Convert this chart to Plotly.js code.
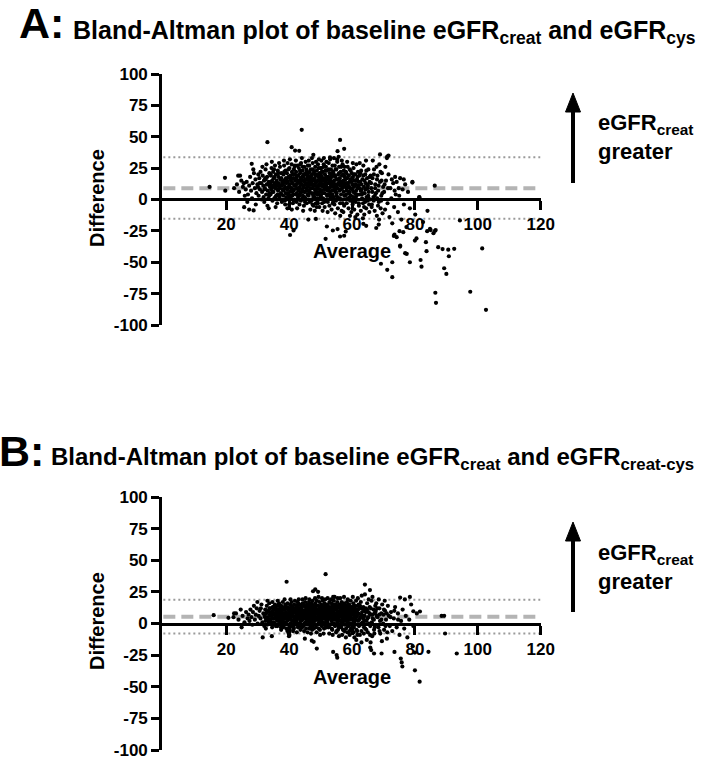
<!DOCTYPE html>
<html><head><meta charset="utf-8">
<script src="https://cdn.plot.ly/plotly-3.0.1.min.js"></script>
<style>html,body{margin:0;padding:0;background:#fff}</style>
</head><body><div id="chart" style="width:705px;height:759px"></div>
<script>
// ---- data ----
const titleA = "Bland-Altman plot of baseline eGFR<sub>creat</sub> and eGFR<sub>cys</sub>";
const titleB = "Bland-Altman plot of baseline eGFR<sub>creat</sub> and eGFR<sub>creat-cys</sub>";
const xTicks = [20, 40, 60, 80, 100, 120];
const xTickLabels = ["20", "40", "60", "80", "100", "120"];
const yTicks = [-100, -75, -50, -25, 0, 25, 50, 75, 100];
const yTickLabels = ["-100", "-75", "-50", "-25", "0", "25", "50", "75", "100"];
// bias and limits of agreement [lower, mean, upper]
const limitsA = [-15.4, 9.0, 33.7];
const limitsB = [-7.9, 5.4, 18.7];
const lineSpan = [0, 120];

// Panel A: [average, difference]
const pointsA = [
[22.5,9],[23.4,12],[24.1,6],[24.8,15],[25.3,10],[25.9,3],[23.8,19],[25.6,13],
[26.2,8],[26.5,14],[26.9,4],[27.3,11],[27.6,18],[27.9,7],[28.2,1],[28.4,13],[28.8,21],[29.1,9],[29.3,16],[29.6,5],[29.9,12],[26.7,-2],[28.6,24],[29.4,-4],
[30.1,10],[30.3,3],[30.5,17],[30.7,8],[30.9,22],[31.1,13],[31.2,0],[31.4,6],[31.6,19],[31.8,11],[32.0,15],[32.1,-2],[32.3,9],[32.5,24],[32.7,4],[32.9,12],[33.0,18],[33.2,7],[33.4,1],[33.5,14],[33.7,21],[33.9,10],[30.6,13],[31.5,26],[32.4,17],[33.1,-5],[33.8,5],[30.2,20],[31.9,2],[32.8,28],
[34.0,12],[34.1,4],[34.2,19],[34.3,8],[34.4,25],[34.6,15],[34.7,-1],[34.8,10],[34.9,22],[35.0,6],[35.1,17],[35.3,1],[35.4,13],[35.5,27],[35.6,9],[35.8,20],[35.9,3],[36.0,15],[36.1,11],[36.2,-3],[36.4,23],[36.5,7],[36.6,18],[36.7,13],[36.9,2],[37.0,9],[37.1,26],[37.2,16],[37.4,5],[37.5,21],[37.6,11],[37.7,-2],[37.8,14],[37.9,8],[34.5,30],[35.7,-6],[36.8,29],[37.3,0],[35.2,24],[36.3,4],
[38.0,12],[38.1,3],[38.2,20],[38.3,8],[38.4,27],[38.5,15],[38.6,-1],[38.7,10],[38.8,23],[38.9,5],[39.0,17],[39.1,13],[39.2,0],[39.3,21],[39.4,8],[39.5,29],[39.6,14],[39.7,4],[39.8,18],[39.9,10],[40.0,-4],[40.1,25],[40.2,12],[40.3,6],[40.4,19],[40.5,1],[40.6,15],[40.7,9],[40.8,28],[40.9,22],[41.0,3],[41.1,13],[41.2,-3],[41.3,17],[41.4,7],[41.5,24],[41.6,11],[41.7,0],[41.8,20],[41.9,15],[38.35,31],[39.45,-7],[40.25,32],[40.85,-8],[41.35,4],[41.75,26],[39.05,2],[38.75,-4],[40.55,9],[41.45,-1],
[42.0,11],[42.1,4],[42.2,22],[42.3,16],[42.4,-2],[42.5,9],[42.6,27],[42.7,13],[42.8,2],[42.9,19],[43.0,7],[43.1,25],[43.2,14],[43.3,-4],[43.4,10],[43.5,21],[43.6,5],[43.7,17],[43.8,29],[43.9,12],[44.0,0],[44.1,15],[44.2,8],[44.3,23],[44.4,3],[44.5,18],[44.6,11],[44.7,-5],[44.8,26],[44.9,14],[45.0,6],[45.1,20],[45.2,1],[45.3,16],[45.4,9],[45.5,24],[45.6,-3],[45.7,12],[45.8,19],[45.9,4],[42.15,31],[42.55,-7],[43.15,0],[43.55,28],[44.05,33],[44.45,-9],[44.85,6],[45.25,30],[45.65,22],[42.85,8],[43.75,-1],[44.65,20],[45.45,13],[42.35,18],[43.35,3],
[46.0,10],[46.1,21],[46.2,3],[46.3,15],[46.4,27],[46.5,7],[46.6,-2],[46.7,18],[46.8,12],[46.9,24],[47.0,0],[47.1,14],[47.2,5],[47.3,20],[47.4,9],[47.5,29],[47.6,16],[47.7,-5],[47.8,11],[47.9,22],[48.0,2],[48.1,17],[48.2,8],[48.3,26],[48.4,13],[48.5,-3],[48.6,19],[48.7,6],[48.8,23],[48.9,10],[49.0,1],[49.1,15],[49.2,28],[49.3,4],[49.4,18],[49.5,12],[49.6,-6],[49.7,21],[49.8,8],[49.9,25],[46.25,31],[46.75,-8],[47.25,33],[47.65,3],[48.15,-9],[48.55,30],[49.05,-1],[49.45,32],[49.85,14],[46.45,12],[47.45,-4],[48.45,7],[49.25,20],[46.95,17],[48.75,-6],
[50.0,11],[50.1,3],[50.2,19],[50.3,25],[50.4,7],[50.5,-3],[50.6,15],[50.7,22],[50.8,1],[50.9,12],[51.0,28],[51.1,17],[51.2,5],[51.3,-6],[51.4,20],[51.5,9],[51.6,14],[51.7,26],[51.8,0],[51.9,10],[52.0,23],[52.1,16],[52.2,4],[52.3,-2],[52.4,18],[52.5,8],[52.6,29],[52.7,13],[52.8,-5],[52.9,21],[53.0,6],[53.1,15],[53.2,2],[53.3,24],[53.4,11],[53.5,-8],[53.6,18],[53.7,7],[53.8,27],[53.9,13],[50.25,31],[50.65,-9],[51.05,33],[51.45,-1],[51.85,30],[52.25,-10],[52.65,9],[53.05,32],[53.45,19],[53.85,-3],[50.45,17],[51.25,12],[52.05,3],[52.85,14],[53.65,0],
[54.0,10],[54.1,21],[54.2,2],[54.3,15],[54.4,-4],[54.5,27],[54.6,8],[54.7,18],[54.8,12],[54.9,-1],[55.0,24],[55.1,5],[55.2,16],[55.3,30],[55.4,9],[55.5,-7],[55.6,20],[55.7,13],[55.8,1],[55.9,26],[56.0,7],[56.1,17],[56.2,-3],[56.3,11],[56.4,22],[56.5,4],[56.6,14],[56.7,-9],[56.8,19],[56.9,9],[57.0,28],[57.1,0],[57.2,15],[57.3,6],[57.4,23],[57.5,-5],[57.6,12],[57.7,18],[57.8,3],[57.9,10],[54.25,33],[54.65,-11],[55.25,32],[55.75,34],[56.25,-13],[56.75,31],[57.25,-10],[57.65,26],[54.85,6],[56.45,0],
[58.0,13],[58.1,4],[58.2,21],[58.3,-3],[58.4,9],[58.5,17],[58.6,26],[58.7,1],[58.8,11],[58.9,-7],[59.0,19],[59.1,6],[59.2,14],[59.3,24],[59.4,-1],[59.5,9],[59.6,16],[59.7,3],[59.8,-10],[59.9,21],[60.0,8],[60.1,12],[60.2,-4],[60.3,18],[60.4,2],[60.5,25],[60.6,10],[60.7,-8],[60.8,15],[60.9,5],[61.0,20],[61.1,-2],[61.2,12],[61.3,7],[61.4,28],[61.5,0],[61.6,16],[61.7,-12],[61.8,9],[61.9,22],[58.45,30],[59.35,-13],[60.25,29],[61.05,-14],[61.65,4],
[62.0,11],[62.2,-5],[62.3,19],[62.5,4],[62.6,14],[62.8,-9],[62.9,23],[63.0,8],[63.2,1],[63.3,16],[63.5,-3],[63.6,27],[63.8,10],[63.9,-12],[64.0,5],[64.2,20],[64.3,13],[64.5,-7],[64.6,2],[64.8,17],[64.9,9],[65.0,-1],[65.2,24],[65.3,6],[65.5,-10],[65.6,14],[65.8,0],[65.9,19],[62.45,29],[63.45,-15],[64.45,31],[65.05,11],[62.75,7],[63.85,-6],[65.45,-4],
[66.1,9],[66.3,-4],[66.5,17],[66.8,2],[67.0,24],[67.2,-9],[67.4,12],[67.6,5],[67.9,-13],[68.1,19],[68.3,7],[68.5,-2],[68.7,28],[68.9,14],[69.1,-7],[69.3,3],[69.5,21],[69.7,-11],[69.9,10],[66.6,31],[67.8,26],[68.6,-16],[69.4,15],[66.9,-1],[68.0,1],
[70.2,6],[70.5,-8],[70.8,15],[71.1,33],[71.3,-3],[71.6,20],[71.9,-14],[72.2,9],[72.5,1],[72.8,-19],[73.1,13],[73.4,-6],[73.7,18],[73.9,4],[70.6,26],
[74.2,14],[74.6,-10],[75.0,3],[75.3,17],[75.7,-16],[76.1,8],[76.5,-4],[76.9,12],[77.3,-22],[77.8,6],
[78.4,-7],[79.2,14],[80.1,-12],[81.4,2],[82.6,-18],[84.0,-9],
[32.15,8],[32.55,16],[33.25,12],[33.65,3],[34.05,20],[34.35,14],[34.75,6],[35.05,11],[35.35,18],[35.65,2],[35.95,13],[36.25,8],[36.55,21],[36.85,10],[37.15,4],[37.55,17],[37.85,12],[38.15,7],[38.45,22],[38.65,14],[38.95,9],[39.25,16],[39.55,5],[39.75,24],[40.05,11],[40.35,17],[40.65,3],[40.95,13],[41.15,20],[41.55,8],[41.85,27],[42.25,12],[42.45,5],[42.65,19],[42.95,15],[43.25,9],[43.45,23],[43.65,13],[43.95,6],[44.15,18],[44.35,26],[44.55,10],[44.75,15],[44.95,2],[45.15,12],[45.35,21],[45.55,7],[45.75,17],[45.95,27],[46.15,13],[46.35,6],[46.55,22],[46.85,9],[47.05,19],[47.35,12],[47.55,24],[47.75,1],[47.95,15],[48.25,11],[48.35,20],[48.65,14],[48.85,4],[49.15,9],[49.35,25],[49.55,16],[49.75,6],[49.95,18],[50.15,13],[50.35,22],[50.55,5],[50.75,10],[50.95,26],[51.15,15],[51.35,8],[51.55,23],[51.75,11],[51.95,18],[52.15,7],[52.35,13],[52.55,24],[52.75,3],[52.95,17],[53.15,10],[53.35,20],[53.55,14],[53.75,4],[53.95,22],[54.15,13],[54.35,7],[54.55,19],[54.75,24],[54.95,10],[55.15,16],[55.35,2],[55.55,12],[55.85,21],[56.05,14],[56.35,8],[56.55,26],[56.85,13],[57.15,20],[57.35,11],[57.55,3],[57.85,16],[58.05,22],[58.25,7],[58.55,13],[58.85,19],[59.05,10],[59.25,2],[59.55,23],[59.85,14],[60.05,17],[60.35,6],[60.65,20],[60.95,11],[61.25,15],[61.45,3],[61.75,18],[62.05,14],[62.35,9],[62.65,21],[62.95,12],[63.25,5],[63.55,19],[63.95,15],[64.25,8],[64.55,23],[64.85,12],[65.15,3],[65.65,18],[66.05,13],[66.45,6],[66.95,20],[67.35,9],[67.95,16],[68.45,11],[69.05,22],[69.65,5],[70.35,12],[71.45,9],[72.65,16],[73.55,7],[74.85,9],[76.45,16],
[40.15,2],[41.05,6],[42.05,-1],[43.05,3],[44.25,1],[45.05,-2],[46.05,4],[47.15,-1],[48.05,5],[49.15,-3],[50.05,2],[51.15,-2],[52.15,0],[53.25,4],[54.05,-2],[55.05,3],[56.15,1],[57.05,-3],[58.15,0],[59.05,5],[60.15,-1],[61.15,2],[62.15,-3],[63.15,4],[64.15,-2],[65.25,1],[66.25,-6],[67.25,3],[68.25,-5],[69.25,-1],
[44,55.5],[56.2,47.5],[57.5,40.4],[71.2,34.2],[79.2,13.5],[86.3,11],[81.4,1.8],[33.1,45.7],[40.8,41.7],[41.9,39],[43.2,38.8],[55.4,38.5],[47.7,35.6],[53,33.5],[19.6,17.3],[24.4,19],[28.1,28.4],[14.7,10],[19.7,7],[68.9,35.9],[71.6,35],
[86.4,-25],[84.8,-23.4],[85.9,-26.8],[80,-32.7],[83.5,-34],[87.4,-38],[75.3,-36.7],[77.4,-43.3],[83.7,-41.2],[78.4,-50],[81.8,-48.2],[82.1,-53.5],[69.2,-51.2],[71.2,-56],[72.8,-61.9],[72.8,-50],[90.6,-40],[88.8,-39.5],[92.5,-39.3],[90.8,-45.2],[101.4,-39],[89.3,-54.8],[90,-59.3],[86.5,-74.3],[86.7,-82.3],[97.6,-73.5],[102.6,-87.9],[94.3,-16.7],[74.2,-30],[73.5,-28],[76.3,-26],[75.1,-25.2],[83.9,-25.2],[85,-24.4],[86.6,-24.4],[68.5,-20],[63.6,-19.4],[67.7,-22.7],[64.5,-21],[51.6,-31.3],[53.9,-24.7],[56.2,-29.5],[58,-25.5],[40.3,-28.3],[41.4,-24.7],[46.1,-16],[48.5,-15.5],[52,-21.5],[55.4,-23.6],[57.5,-28.9],[27.3,-8],[25.7,-6.1],[28.7,-8.7],[33.5,-7],[76.9,-42.8],[75.3,-37.5],[73.3,-29],[80.5,-31]
];

// Panel B: [average, difference]
const pointsB = [
[22.3,5],[23.1,8],[23.9,3],[24.6,11],[25.2,6],[25.8,1],[26.3,9],[26.8,4],
[27.1,7],[27.4,2],[27.7,11],[28.0,5],[28.3,-1],[28.5,9],[28.8,14],[29.1,3],[29.4,7],[29.7,12],[30.0,0],[30.3,6],[30.6,10],[30.9,4],[31.2,15],[31.5,1],[31.8,8],[32.1,-2],[29.9,17],[31.0,12],
[32.2,6],[32.4,11],[32.5,2],[32.7,8],[32.9,14],[33.0,-1],[33.2,5],[33.4,10],[33.5,3],[33.7,16],[33.9,7],[34.0,12],[34.2,0],[34.3,6],[34.5,9],[34.6,-3],[34.8,13],[34.9,4],[35.0,8],[35.2,1],[35.3,11],[35.5,15],[35.6,5],[35.8,-2],[35.9,9],[33.1,18],[34.1,3],[34.7,17],[35.4,7],[32.6,-4],[33.6,1],[35.1,13],[33.8,9],[32.8,4],[35.7,12],
[36.0,6],[36.1,11],[36.2,2],[36.3,14],[36.4,8],[36.5,-1],[36.6,4],[36.7,10],[36.8,16],[36.9,6],[37.0,0],[37.1,12],[37.2,3],[37.3,8],[37.4,-3],[37.5,14],[37.6,5],[37.7,10],[37.8,1],[37.9,7],[38.0,17],[38.1,3],[38.2,11],[38.3,-2],[38.4,6],[38.5,13],[38.6,8],[38.7,1],[38.8,15],[38.9,4],[39.0,9],[39.1,-4],[39.2,12],[39.3,6],[39.4,2],[39.5,16],[39.6,8],[39.7,-1],[39.8,11],[39.9,5],[36.35,18],[37.45,-5],[38.55,19],[39.45,-6],[39.85,-8],
[40.0,-7],[40.1,-9],[40.2,-5],[39.95,-10],[40.15,-3],
[40.0,7],[40.1,12],[40.2,3],[40.3,15],[40.4,9],[40.5,0],[40.6,5],[40.7,11],[40.8,17],[40.9,6],[41.0,-2],[41.1,13],[41.2,8],[41.3,2],[41.4,10],[41.5,-4],[41.6,15],[41.7,5],[41.8,9],[41.9,1],[42.0,12],[42.1,6],[42.2,-1],[42.3,14],[42.4,8],[42.5,3],[42.6,17],[42.7,10],[42.8,-3],[42.9,5],[43.0,12],[43.1,7],[43.2,0],[43.3,15],[43.4,9],[43.5,4],[43.6,-5],[43.7,11],[43.8,6],[43.9,14],[40.45,19],[41.25,-6],[41.85,18],[42.45,-7],[43.05,19],[43.65,2],[40.85,-1],[42.05,3],[42.95,16],[43.45,-2],
[44.0,8],[44.1,13],[44.2,3],[44.3,16],[44.4,6],[44.5,-2],[44.6,10],[44.7,4],[44.8,14],[44.9,0],[45.0,9],[45.1,17],[45.2,5],[45.3,11],[45.4,-4],[45.5,7],[45.6,13],[45.7,2],[45.8,15],[45.9,8],[46.0,-1],[46.1,11],[46.2,5],[46.3,17],[46.4,9],[46.5,1],[46.6,14],[46.7,6],[46.8,-3],[46.9,12],[47.0,4],[47.1,16],[47.2,8],[47.3,-5],[47.4,10],[47.5,3],[47.6,14],[47.7,7],[47.8,0],[47.9,12],[44.25,19],[44.75,-6],[45.25,20],[45.85,-7],[46.45,19],[46.95,-8],[47.45,18],[47.85,-4],[44.45,9],[45.15,1],[45.65,5],[46.25,13],[46.75,2],[47.15,10],[47.65,6],
[48.0,7],[48.1,13],[48.2,2],[48.3,16],[48.4,9],[48.5,-3],[48.6,5],[48.7,11],[48.8,18],[48.9,4],[49.0,8],[49.1,-1],[49.2,14],[49.3,6],[49.4,10],[49.5,1],[49.6,17],[49.7,7],[49.8,-5],[49.9,12],[50.0,3],[50.1,9],[50.2,15],[50.3,5],[50.4,-2],[50.5,11],[50.6,7],[50.7,18],[50.8,1],[50.9,13],[51.0,6],[51.1,-4],[51.2,10],[51.3,16],[51.4,4],[51.5,8],[51.6,0],[51.7,14],[51.8,7],[51.9,11],[48.25,20],[48.75,-7],[49.35,21],[49.85,-9],[50.45,20],[50.95,-8],[51.45,19],[51.95,-3],[48.45,12],[49.05,3],[49.65,9],[50.25,1],[50.85,6],[51.25,13],[51.75,2],
[52.0,6],[52.1,12],[52.2,1],[52.3,15],[52.4,8],[52.5,-3],[52.6,10],[52.7,4],[52.8,17],[52.9,7],[53.0,-1],[53.1,13],[53.2,5],[53.3,9],[53.4,16],[53.5,2],[53.6,11],[53.7,-5],[53.8,7],[53.9,14],[54.0,3],[54.1,9],[54.2,18],[54.3,0],[54.4,12],[54.5,6],[54.6,-2],[54.7,15],[54.8,8],[54.9,3],[55.0,11],[55.1,-6],[55.2,7],[55.3,17],[55.4,1],[55.5,13],[55.6,5],[55.7,9],[55.8,-3],[55.9,15],[52.25,20],[52.75,-8],[53.35,19],[53.85,-9],[54.45,21],[54.95,-7],[55.45,20],[55.85,-10],[52.45,4],[53.05,10],[53.65,0],[54.25,6],[54.85,13],[55.35,-1],[55.65,3],
[56.0,7],[56.1,12],[56.2,2],[56.3,15],[56.4,-2],[56.5,9],[56.6,5],[56.7,17],[56.8,0],[56.9,11],[57.0,6],[57.1,-5],[57.2,13],[57.3,3],[57.4,9],[57.5,16],[57.6,-1],[57.7,7],[57.8,11],[57.9,2],[58.0,14],[58.1,-4],[58.2,8],[58.3,5],[58.4,17],[58.5,-7],[58.6,10],[58.7,1],[58.8,13],[58.9,6],[59.0,-2],[59.1,15],[59.2,8],[59.3,-6],[59.4,4],[59.5,11],[59.6,18],[59.7,0],[59.8,7],[59.9,13],[56.25,20],[56.85,-9],[57.45,21],[58.05,-11],[58.65,19],[59.25,-9],[59.75,-4],[57.05,1],[58.35,10],[59.45,3],
[60.0,8],[60.1,-3],[60.2,13],[60.3,4],[60.4,16],[60.5,-7],[60.6,10],[60.7,1],[60.8,6],[60.9,14],[61.0,-1],[61.1,9],[61.2,3],[61.3,18],[61.4,-5],[61.5,11],[61.6,6],[61.7,-9],[61.8,14],[61.9,2],[62.0,8],[62.2,-2],[62.4,12],[62.6,5],[62.8,17],[63.0,-6],[63.2,9],[63.4,1],[63.6,13],[63.8,-3],[60.25,21],[60.75,-11],[61.35,-13],[61.85,20],[62.5,-9],[63.1,22],[63.5,4],[62.1,15],[62.9,0],[63.9,10],
[64.0,6],[64.2,-4],[64.4,12],[64.6,2],[64.8,16],[65.0,-7],[65.2,9],[65.4,0],[65.6,13],[65.8,-2],[66.0,7],[66.2,18],[66.4,-10],[66.6,4],[66.8,11],[67.0,-5],[67.2,8],[67.4,14],[67.6,-1],[67.8,6],[64.1,23],[64.7,-13],[65.3,19],[65.9,-15],[66.5,21],[67.1,-8],[67.7,16],[64.9,4],[66.3,1],[67.5,10],
[68.1,5],[68.4,-3],[68.7,12],[69.0,-8],[69.3,8],[69.6,15],[69.9,0],[70.2,-5],[70.5,10],[70.8,3],[71.1,-12],[71.4,14],[71.7,6],[72.0,-2],[68.5,19],[69.5,-14],[70.4,18],[71.2,-7],[68.9,2],[70.0,7],
[72.4,9],[72.8,-6],[73.3,4],[73.7,13],[74.2,-3],[74.6,8],[75.1,-9],[75.6,2],[76.1,11],[76.6,-4],[77.1,6],[77.6,-11],[78.2,3],[78.8,15],[79.5,-2],
[32.35,5],[32.95,9],[33.35,2],[33.75,12],[34.15,6],[34.45,1],[34.85,10],[35.15,4],[35.45,13],[35.85,7],[36.15,3],[36.45,11],[36.75,6],[37.05,14],[37.35,2],[37.65,9],[37.95,12],[38.25,5],[38.65,11],[38.95,0],[39.15,7],[39.55,13],[39.75,4],[40.05,10],[40.35,6],[40.65,14],[40.95,2],[41.15,9],[41.45,5],[41.75,12],[42.15,10],[42.35,1],[42.65,7],[42.85,13],[43.15,4],[43.35,11],[43.55,8],[43.85,2],[44.05,11],[44.35,4],[44.65,15],[44.95,7],[45.35,13],[45.55,3],[45.75,10],[45.95,5],[46.15,8],[46.35,2],[46.65,11],[46.85,15],[47.05,7],[47.25,13],[47.55,1],[47.75,10],[47.95,5],[48.15,9],[48.35,4],[48.55,14],[48.85,8],[49.15,11],[49.45,5],[49.75,13],[49.95,7],[50.15,11],[50.35,3],[50.55,14],[50.75,9],[50.95,4],[51.15,12],[51.35,7],[51.55,15],[51.85,5],[52.05,9],[52.35,3],[52.55,13],[52.85,10],[53.15,7],[53.45,12],[53.75,4],[53.95,10],[54.15,15],[54.35,8],[54.65,3],[54.95,11],[55.15,5],[55.45,9],[55.75,14],[55.95,6],[56.15,10],[56.45,13],[56.65,2],[56.95,8],[57.15,14],[57.35,6],[57.65,11],[57.95,4],[58.15,12],[58.45,7],[58.75,15],[58.95,3],[59.15,10],[59.35,13],[59.65,5],[59.95,9],[60.15,11],[60.45,2],[60.65,8],[60.95,12],[61.25,5],[61.55,9],[61.95,11],[62.25,3],[62.55,14],[62.85,7],[63.25,12],[63.65,6],[63.95,2],[64.35,9],[64.75,11],[65.15,5],[65.55,8],[65.95,12],[66.45,7],[66.95,3],[67.45,9],[68.05,12],[68.65,7],[69.35,3],[70.15,11],[71.05,8],[72.25,5],[73.45,10],[74.65,3],
[36.25,-2],[38.05,-3],[40.25,-1],[41.35,-3],[42.75,0],[44.15,-3],[45.05,-1],[46.45,-4],[47.35,-2],[48.65,-1],[49.45,-4],[50.65,-1],[51.65,-3],[52.65,-2],[53.55,-4],[54.55,-1],[55.55,-5],[56.55,-3],[57.55,-6],[58.55,-2],[59.55,-5],[60.55,-3],[61.65,-6],[62.65,-1],[63.75,-8],[64.55,-5],[65.75,-9],[67.25,-3],[68.75,-6],[70.65,-2],
[39.2,33],[51.6,39],[47.6,25.5],[48.3,27],[49.2,25],[54,21],[64.1,30.8],[65.7,26.4],[75.3,20.5],[76.8,19],[78.4,21],[80.6,8],[81.6,9.5],[79.5,9.7],[89.3,6.1],[88.5,6],[89.6,-7.9],[93.3,-23.7],[75.5,-27.7],[75.8,-30.8],[76,-34],[80,-37],[81.5,-46],[69.4,-23.7],[67,-23.7],[65.8,-19],[66.1,-21],[55.1,-25],[55.3,-27],[54,-22.5],[79.3,-18],[80,-23],[84.3,-22.4],[48.8,-19.8],[47.2,-13.6],[47.8,-14.5],[31.6,-11],[34.5,-10],[16,6.6],[20.7,4.5],[22.5,8],[24.9,-3],[73.5,-22.5],[63,-15],[45,-12]
];

// ---- drawing ----
const W = 705, H = 759;
const PX = v => v / W;
const PY = v => 1 - v / H;
const FONT = "Liberation Sans, Arial, Helvetica, sans-serif";

function limitTraces(lim, xa, ya) {
  return [
    {x: lineSpan, y: [lim[0], lim[0]], xaxis: xa, yaxis: ya, mode: 'lines', hoverinfo: 'skip',
     line: {color: '#9a9a9a', width: 2, dash: '2px,3px'}},
    {x: lineSpan, y: [lim[2], lim[2]], xaxis: xa, yaxis: ya, mode: 'lines', hoverinfo: 'skip',
     line: {color: '#9a9a9a', width: 2, dash: '2px,3px'}},
    {x: lineSpan, y: [lim[1], lim[1]], xaxis: xa, yaxis: ya, mode: 'lines', hoverinfo: 'skip',
     line: {color: '#b4b4b4', width: 4, dash: '12px,6px'}}
  ];
}
function pointTrace(pts, xa, ya) {
  return {x: pts.map(p => p[0]), y: pts.map(p => p[1]), xaxis: xa, yaxis: ya,
    mode: 'markers', type: 'scatter', hoverinfo: 'skip',
    marker: {color: '#000', size: 4.2, line: {width: 0}}};
}

const data = [
  ...limitTraces(limitsA, 'x', 'y'), pointTrace(pointsA, 'x', 'y'),
  ...limitTraces(limitsB, 'x2', 'y2'), pointTrace(pointsB, 'x2', 'y2')
];

const bold = s => '<b>' + s + '</b>';
function xAxis(posPx) {
  return {domain: [PX(160.2), PX(540.7)], range: [-1, 120], anchor: 'free', position: PY(posPx),
    showline: true, linewidth: 3, linecolor: '#000', ticks: 'outside', ticklen: 9, tickwidth: 3,
    tickcolor: '#000', tickmode: 'array', tickvals: xTicks, ticktext: xTickLabels.map(bold),
    ticklabeloverflow: 'allow',
    tickfont: {family: FONT, size: 17, color: '#000'}, showgrid: false, zeroline: false, fixedrange: true};
}
function yAxis(topPx, botPx) {
  return {domain: [PY(botPx), PY(topPx)], range: [-100, 100], anchor: 'free', position: PX(160.2),
    showline: true, linewidth: 3, linecolor: '#000', ticks: 'outside', ticklen: 8, tickwidth: 3,
    tickcolor: '#000', tickmode: 'array', tickvals: yTicks, ticktext: yTickLabels.map(bold),
    ticklabeloverflow: 'allow',
    tickfont: {family: FONT, size: 17, color: '#000'}, showgrid: false, zeroline: false, fixedrange: true};
}

function ann(text, xPx, yPx, size, opts) {
  return Object.assign({text: text, x: PX(xPx), y: PY(yPx), xref: 'paper', yref: 'paper',
    showarrow: false, xanchor: 'left', yanchor: 'middle', align: 'left', borderpad: 0,
    font: {family: FONT, size: size, color: '#000'}}, opts || {});
}

const annotations = [
  ann(bold('A:'), 18, 23, 43),
  ann(bold(titleA), 72, 32, 25),
  ann(bold('B:'), -2, 451, 43),
  ann(bold(titleB), 50, 458, 24),
  ann(bold('Difference'), 97, 198, 20, {textangle: -90, xanchor: 'center'}),
  ann(bold('Difference'), 97, 621, 20, {textangle: -90, xanchor: 'center'}),
  ann(bold('Average'), 352, 251, 20, {xanchor: 'center'}),
  ann(bold('Average'), 352, 677, 20, {xanchor: 'center'}),
  ann(bold('eGFR<sub>creat</sub><br>greater'), 597, 137, 22),
  ann(bold('eGFR<sub>creat</sub><br>greater'), 597, 567, 22)
];

function arrowShapes(tip, bottom) {
  const x = 573;
  return [
    {type: 'line', xref: 'paper', yref: 'paper', x0: PX(x), x1: PX(x), y0: PY(bottom), y1: PY(tip + 16),
     line: {color: '#000', width: 4}},
    {type: 'path', xref: 'paper', yref: 'paper', fillcolor: '#000', line: {color: '#000', width: 1},
     path: 'M ' + PX(x) + ' ' + PY(tip) + ' L ' + PX(x - 7.5) + ' ' + PY(tip + 19) + ' L ' + PX(x + 7.5) + ' ' + PY(tip + 19) + ' Z'}
  ];
}

const layout = {
  width: W, height: H, margin: {l: 0, r: 0, t: 0, b: 0},
  paper_bgcolor: '#fff', plot_bgcolor: 'rgba(0,0,0,0)', showlegend: false,
  xaxis: xAxis(199), yaxis: yAxis(74, 325),
  xaxis2: xAxis(623.5), yaxis2: yAxis(497, 750),
  annotations: annotations,
  shapes: [...arrowShapes(93, 183), ...arrowShapes(522, 612)]
};

Plotly.newPlot('chart', data, layout, {staticPlot: true, displayModeBar: false});
</script>
</body></html>
